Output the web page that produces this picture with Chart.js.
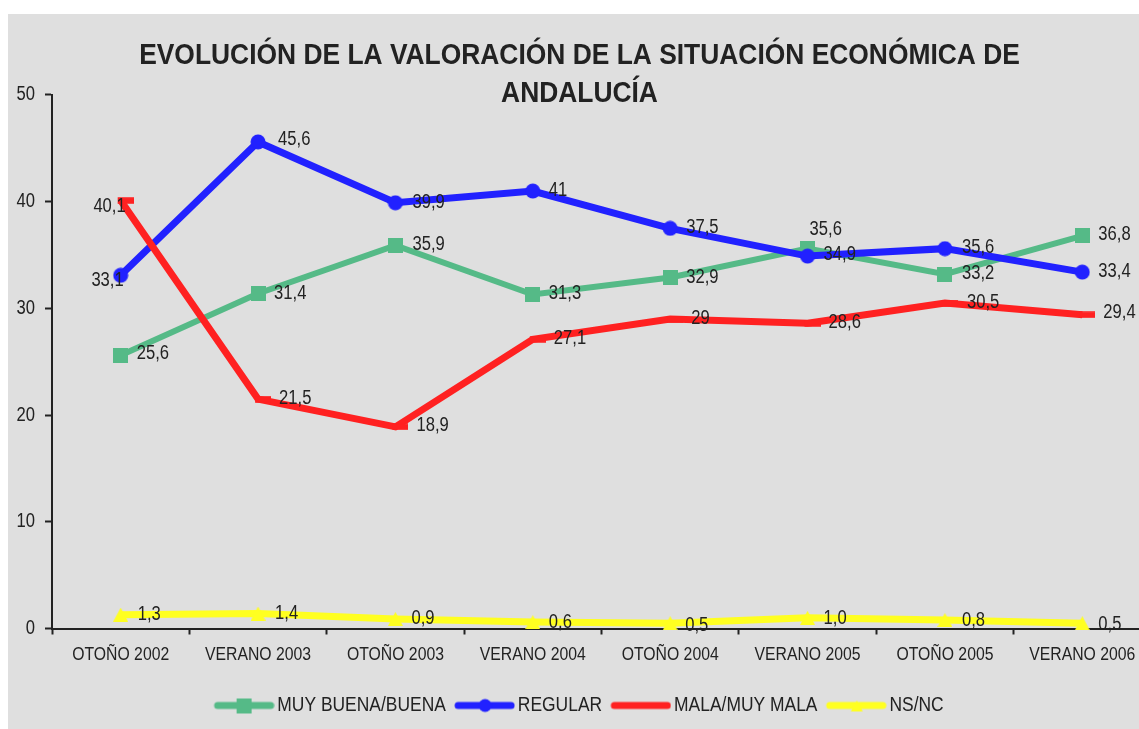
<!DOCTYPE html>
<html><head><meta charset="utf-8">
<script src="https://cdn.jsdelivr.net/npm/chart.js@4.4.1/dist/chart.umd.min.js"></script>
<style>
html,body{margin:0;padding:0;background:#fff;overflow:hidden;width:1139px;height:729px;}
#wrap{position:absolute;left:8px;top:14px;width:1147px;height:715px;background:#dfdfdf;}
canvas{display:block;}
</style></head><body>
<div id="wrap"><canvas id="c" width="1147" height="715"></canvas></div>
<script>
const categories = ["OTOÑO 2002","VERANO 2003","OTOÑO 2003","VERANO 2004","OTOÑO 2004","VERANO 2005","OTOÑO 2005","VERANO 2006"];
const seriesNames = ["MUY BUENA/BUENA","REGULAR","MALA/MUY MALA","NS/NC"];
const muyBuenaBuena = [25.6, 31.4, 35.9, 31.3, 32.9, 35.6, 33.2, 36.8];
const regular       = [33.1, 45.6, 39.9, 41, 37.5, 34.9, 35.6, 33.4];
const malaMuyMala   = [40.1, 21.5, 18.9, 27.1, 29, 28.6, 30.5, 29.4];
const nsnc          = [1.3, 1.4, 0.9, 0.6, 0.5, 1.0, 0.8, 0.5];
const yTicks = [0, 10, 20, 30, 40, 50];
const titleLines = ["EVOLUCIÓN DE LA VALORACIÓN DE LA SITUACIÓN ECONÓMICA DE", "ANDALUCÍA"];

// label placement (pixel offsets from the point), kept apart from the data
const greenLabelPos  = [{dx:16,dy:-2},{dx:16,dy:0},{dx:17,dy:-1},{dx:16,dy:-1},{dx:16,dy:0},{dx:2,dy:-19},{dx:17,dy:-1},{dx:16,dy:-1}];
const blueLabelPos   = [{dx:3,dy:5,align:'right'},{dx:20,dy:-2},{dx:17,dy:0},{dx:16,dy:-1},{dx:16,dy:-1},{dx:16,dy:-2},{dx:17,dy:-1},{dx:16,dy:-1}];
const redLabelPos    = [{dx:5,dy:6,align:'right'},{dx:21,dy:-1},{dx:21,dy:-1},{dx:21,dy:-1},{dx:21,dy:-1},{dx:21,dy:-1},{dx:22,dy:-1},{dx:21,dy:-2}];
const yellowLabelPos = [{dx:17,dy:0},{dx:17,dy:0},{dx:16,dy:0},{dx:16,dy:0},{dx:15,dy:2},{dx:16,dy:1},{dx:17,dy:1},{dx:16,dy:1}];

const FONT = "'Liberation Sans',Arial,sans-serif";
const TXT = '#222222';
const GREEN = '#55BA87', BLUE = '#2121FF', RED = '#FF2121', YELLOW = '#FFFF21';

// condensed rendering (Arial Narrow look): horizontally compress canvas text
(function () {
  const P = CanvasRenderingContext2D.prototype;
  const origFill = P.fillText, origMeasure = P.measureText;
  const factor = ctx => (/bold/.test(ctx.font) ? 0.91 : 0.83);
  P.measureText = function (t) {
    const m = origMeasure.call(this, t), f = factor(this);
    return {
      width: m.width * f,
      actualBoundingBoxLeft: m.actualBoundingBoxLeft * f,
      actualBoundingBoxRight: m.actualBoundingBoxRight * f,
      actualBoundingBoxAscent: m.actualBoundingBoxAscent,
      actualBoundingBoxDescent: m.actualBoundingBoxDescent,
      fontBoundingBoxAscent: m.fontBoundingBoxAscent,
      fontBoundingBoxDescent: m.fontBoundingBoxDescent
    };
  };
  P.fillText = function (t, x, y, mw) {
    const w = origMeasure.call(this, t).width * factor(this);
    return origFill.call(this, t, x, y, (mw === undefined || mw === null) ? w : Math.min(mw, w));
  };
})();

Chart.defaults.font.family = FONT;
Chart.defaults.color = TXT;

function fmt(v, fixed) {
  const s = fixed ? v.toFixed(1) : String(v);
  return s.replace('.', ',');
}

// marker images (drawn as the library's pointStyle)
function marker(kind, color, scale) {
  const s = scale || 1;
  const c = document.createElement('canvas');
  const g = c.getContext('2d');
  if (kind === 'square') {
    c.width = c.height = Math.round(15 * s); g.fillStyle = color;
    g.fillRect(0, 0, c.width, c.height);
  } else if (kind === 'circle') {
    c.width = c.height = Math.round(16 * s); g.fillStyle = color;
    g.beginPath(); g.arc(c.width / 2, c.height / 2, c.width / 2 - 0.5, 0, Math.PI * 2); g.fill();
  } else if (kind === 'dash') {
    c.width = 26; c.height = 7; g.fillStyle = color;
    g.fillRect(10, 0.25, 16, 6.5);
  } else if (kind === 'triangle') {
    c.width = Math.round(15 * s); c.height = Math.round(14 * s); g.fillStyle = color;
    g.beginPath(); g.moveTo(c.width / 2, 0); g.lineTo(c.width, c.height); g.lineTo(0, c.height); g.closePath(); g.fill();
  }
  return c;
}

function legendIcon(color, mk) {
  const c = document.createElement('canvas');
  c.width = 67; c.height = 24;
  const g = c.getContext('2d');
  g.strokeStyle = color; g.lineWidth = 7; g.lineCap = 'round';
  g.beginPath(); g.moveTo(10, 12); g.lineTo(63, 12); g.stroke();
  if (mk) g.drawImage(mk, Math.round(36.5 - mk.width / 2), Math.round(12 - mk.height / 2));
  return c;
}

const datasets = [
  {label: seriesNames[0], data: muyBuenaBuena, borderColor: GREEN, backgroundColor: GREEN, borderWidth: 6,
   pointStyle: marker('square', GREEN), order: 4, labelPos: greenLabelPos, fixed: false,
   icon: legendIcon(GREEN, marker('square', GREEN))},
  {label: seriesNames[1], data: regular, borderColor: BLUE, backgroundColor: BLUE, borderWidth: 7,
   pointStyle: marker('circle', BLUE), order: 3, labelPos: blueLabelPos, fixed: false,
   icon: legendIcon(BLUE, marker('circle', BLUE, 0.9))},
  {label: seriesNames[2], data: malaMuyMala, borderColor: RED, backgroundColor: RED, borderWidth: 7,
   pointStyle: marker('dash', RED), order: 2, labelPos: redLabelPos, fixed: false,
   icon: legendIcon(RED, null)},
  {label: seriesNames[3], data: nsnc, borderColor: YELLOW, backgroundColor: YELLOW, borderWidth: 7,
   pointStyle: marker('triangle', YELLOW), order: 1, labelPos: yellowLabelPos, fixed: true,
   icon: legendIcon(YELLOW, marker('triangle', YELLOW, 0.8))}
].map(d => Object.assign(d, {tension: 0, clip: false, pointRadius: 1, pointHoverRadius: 1, pointBorderWidth: 0}));

const valueLabels = {
  id: 'valueLabels',
  afterDatasetsDraw(chart) {
    const ctx = chart.ctx;
    ctx.save();
    ctx.font = '20px ' + FONT;
    ctx.fillStyle = TXT;
    ctx.textBaseline = 'middle';
    chart.data.datasets.forEach((ds, di) => {
      const meta = chart.getDatasetMeta(di);
      meta.data.forEach((pt, i) => {
        const p = ds.labelPos[i] || {dx: 16, dy: 0};
        ctx.textAlign = p.align || 'left';
        ctx.fillText(fmt(ds.data[i], ds.fixed), pt.x + p.dx, pt.y + p.dy);
      });
    });
    ctx.restore();
  }
};

new Chart(document.getElementById('c'), {
  type: 'line',
  data: {labels: categories, datasets: datasets},
  plugins: [valueLabels],
  options: {
    responsive: false,
    animation: false,
    layout: {padding: {left: 0, right: 4, top: 0, bottom: 3}},
    plugins: {
      tooltip: {enabled: false},
      title: {
        display: true, text: titleLines, color: TXT,
        font: {family: FONT, size: 29, weight: 'bold', lineHeight: 1.31},
        padding: {top: 23, bottom: -18}
      },
      legend: {
        display: true, position: 'bottom',
        labels: {
          usePointStyle: true, pointStyleWidth: 51.5, padding: 10,
          font: {family: FONT, size: 21}, color: TXT,
          generateLabels(chart) {
            return chart.data.datasets.map((ds, i) => ({
              text: ds.label, pointStyle: ds.icon, datasetIndex: i, hidden: false,
              fillStyle: 'rgba(0,0,0,0)', strokeStyle: 'rgba(0,0,0,0)', lineWidth: 0, fontColor: TXT
            }));
          }
        }
      }
    },
    scales: {
      x: {
        type: 'category', offset: true,
        grid: {display: true, offset: true, drawOnChartArea: false, drawTicks: true, tickLength: 6, tickWidth: 2, tickColor: TXT},
        border: {display: true, color: TXT, width: 2},
        ticks: {color: TXT, font: {family: FONT, size: 19}, padding: 9, maxRotation: 0, autoSkip: false},
        afterFit(scale) { scale.height = 56.5; scale.paddingLeft = 0; scale.paddingRight = 0; }
      },
      y: {
        type: 'linear', min: 0, max: 50,
        afterBuildTicks(scale) { scale.ticks = yTicks.map(v => ({value: v})); },
        grid: {display: true, drawOnChartArea: false, drawTicks: true, tickLength: 7, tickWidth: 2, tickColor: TXT},
        border: {display: true, color: TXT, width: 2},
        ticks: {color: TXT, font: {family: FONT, size: 20}, padding: 10},
        afterFit(scale) { scale.width = 44; scale.paddingTop = 0; scale.paddingBottom = 0; }
      }
    }
  }
});
</script>
</body></html>
